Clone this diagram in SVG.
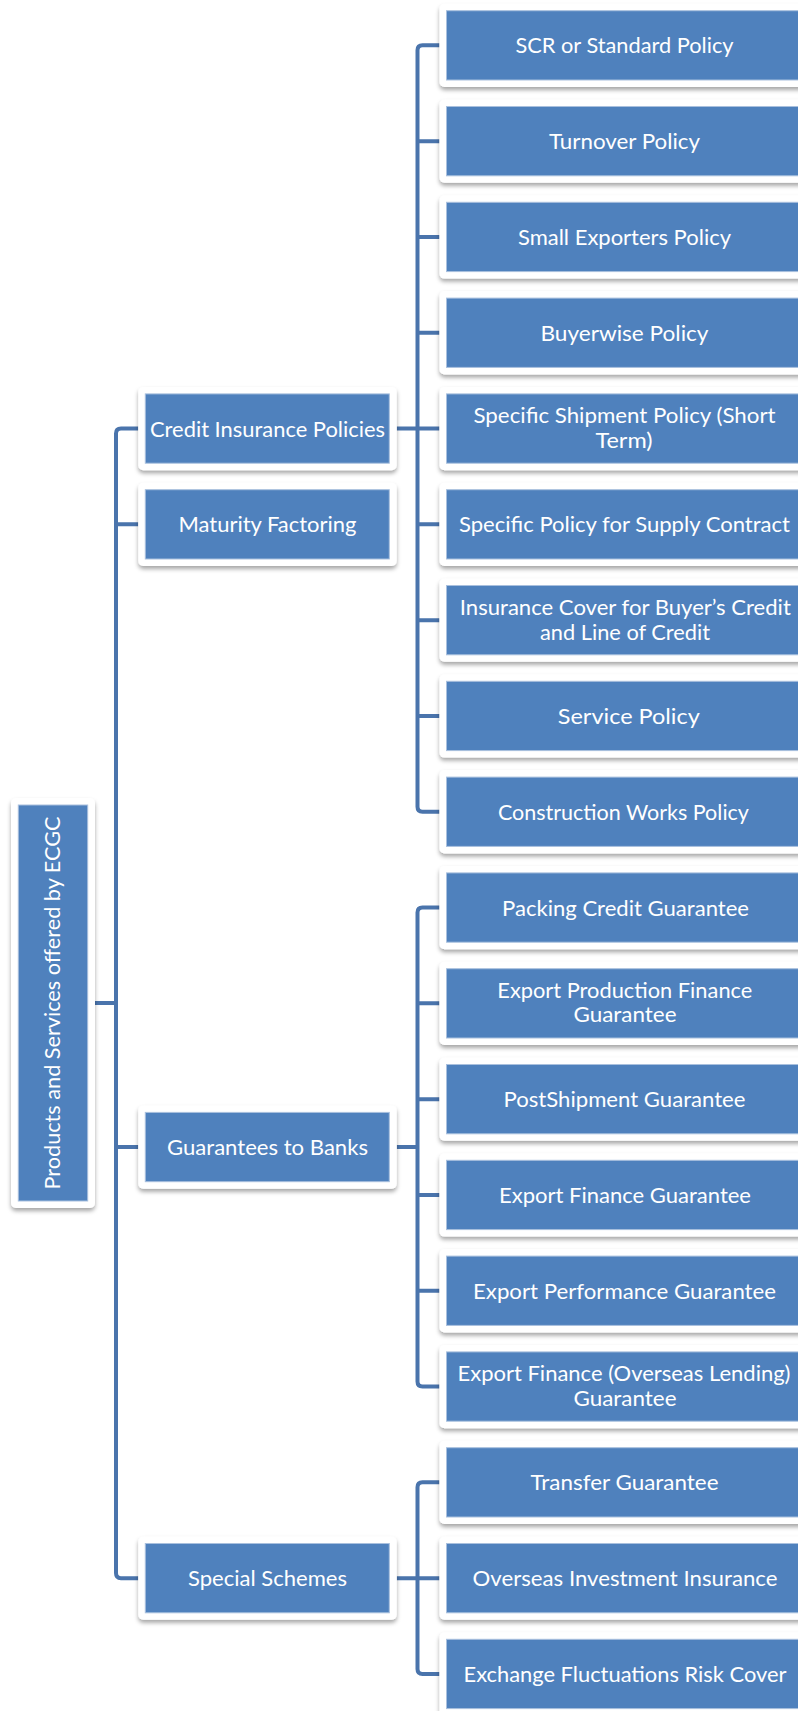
<svg xmlns="http://www.w3.org/2000/svg" width="798" height="1711" viewBox="0 0 798 1711">
<defs>
<filter id="sh" x="-10%" y="-20%" width="120%" height="150%">
<feDropShadow dx="0" dy="3" stdDeviation="2" flood-color="#000" flood-opacity="0.35"/>
</filter>
<style>
.frame{fill:#fff;filter:url(#sh)}
.box{fill:#4F81BD;stroke:#A9C0DE;stroke-width:1}
.t{font-family:Lato,"Open Sans","Liberation Sans",sans-serif;font-size:22px;fill:#fff;text-anchor:middle}
.c{fill:none;stroke:#4A74AC;stroke-width:4;stroke-linejoin:round}
</style>
</defs>
<rect width="798" height="1711" fill="#fff"/>
<g id="connectors">
<path class="c" d="M138.3,428.55 H121 Q116,428.55 116,433.5 V1573 Q116,1578.15 121,1578.15 H138.3"/>
<path class="c" d="M116,524.35 H138.3 M116,1147.05 H138.3 M95,1003 H116"/>
<path class="c" d="M396.7,428.55 H417.5 M439.5,45.35 H422.5 Q417.5,45.35 417.5,50.3 V806.8 Q417.5,811.75 422.5,811.75 H439.5"/>
<path class="c" d="M417.5,141.15 H439.5 M417.5,236.95 H439.5 M417.5,332.75 H439.5 M417.5,428.55 H439.5 M417.5,524.35 H439.5 M417.5,620.15 H439.5 M417.5,715.95 H439.5"/>
<path class="c" d="M396.7,1147.05 H417.5 M439.5,907.55 H422.5 Q417.5,907.55 417.5,912.5 V1381.6 Q417.5,1386.55 422.5,1386.55 H439.5"/>
<path class="c" d="M417.5,1003.35 H439.5 M417.5,1099.15 H439.5 M417.5,1194.95 H439.5 M417.5,1290.75 H439.5"/>
<path class="c" d="M396.7,1578.15 H417.5 M439.5,1482.35 H422.5 Q417.5,1482.35 417.5,1487.3 V1669 Q417.5,1673.95 422.5,1673.95 H439.5 M417.5,1578.15 H439.5"/>
</g>
<g id="root">
<rect class="frame" x="11" y="798" width="84" height="410" rx="5"/>
<rect class="box" x="18.3" y="805" width="69.4" height="396"/>
<text class="t" transform="translate(60,1003) rotate(-90)" x="0" y="0" textLength="373" lengthAdjust="spacingAndGlyphs">Products and Services offered by ECGC</text>
</g>
<g id="credit">
<rect class="frame" x="138.3" y="386.9" width="258.4" height="83.3" rx="5"/>
<rect class="box" x="145.3" y="393.9" width="244" height="69.3"/>
<text class="t" x="267.5" y="436.5" textLength="235" lengthAdjust="spacingAndGlyphs">Credit Insurance Policies</text>
</g>
<g id="maturity">
<rect class="frame" x="138.3" y="482.7" width="258.4" height="83.3" rx="5"/>
<rect class="box" x="145.3" y="489.7" width="244" height="69.3"/>
<text class="t" x="267.5" y="532.3" textLength="178" lengthAdjust="spacingAndGlyphs">Maturity Factoring</text>
</g>
<g id="guarantees">
<rect class="frame" x="138.3" y="1105.4" width="258.4" height="83.3" rx="5"/>
<rect class="box" x="145.3" y="1112.4" width="244" height="69.3"/>
<text class="t" x="267.5" y="1155" textLength="201" lengthAdjust="spacingAndGlyphs">Guarantees to Banks</text>
</g>
<g id="special">
<rect class="frame" x="138.3" y="1536.5" width="258.4" height="83.3" rx="5"/>
<rect class="box" x="145.3" y="1543.5" width="244" height="69.3"/>
<text class="t" x="267.5" y="1586.1" textLength="159" lengthAdjust="spacingAndGlyphs">Special Schemes</text>
</g>
<g id="n0">
<rect class="frame" x="439.5" y="3.7" width="370" height="83.3" rx="5"/>
<rect class="box" x="446.5" y="10.7" width="356" height="69.3"/>
<text class="t" x="624.5" y="53.3" textLength="218" lengthAdjust="spacingAndGlyphs">SCR or Standard Policy</text>
</g>
<g id="n1">
<rect class="frame" x="439.5" y="99.5" width="370" height="83.3" rx="5"/>
<rect class="box" x="446.5" y="106.5" width="356" height="69.3"/>
<text class="t" x="624.5" y="149.1" textLength="151" lengthAdjust="spacingAndGlyphs">Turnover Policy</text>
</g>
<g id="n2">
<rect class="frame" x="439.5" y="195.3" width="370" height="83.3" rx="5"/>
<rect class="box" x="446.5" y="202.3" width="356" height="69.3"/>
<text class="t" x="624.5" y="244.9" textLength="213" lengthAdjust="spacingAndGlyphs">Small Exporters Policy</text>
</g>
<g id="n3">
<rect class="frame" x="439.5" y="291.1" width="370" height="83.3" rx="5"/>
<rect class="box" x="446.5" y="298.1" width="356" height="69.3"/>
<text class="t" x="624.5" y="340.7" textLength="168" lengthAdjust="spacingAndGlyphs">Buyerwise Policy</text>
</g>
<g id="n4">
<rect class="frame" x="439.5" y="386.9" width="370" height="83.3" rx="5"/>
<rect class="box" x="446.5" y="393.9" width="356" height="69.3"/>
<text class="t" x="624.5" y="423.3" textLength="302" lengthAdjust="spacingAndGlyphs">Specific Shipment Policy (Short</text>
<text class="t" x="624" y="448" textLength="57" lengthAdjust="spacingAndGlyphs">Term)</text>
</g>
<g id="n5">
<rect class="frame" x="439.5" y="482.7" width="370" height="83.3" rx="5"/>
<rect class="box" x="446.5" y="489.7" width="356" height="69.3"/>
<text class="t" x="624.5" y="532.3" textLength="331" lengthAdjust="spacingAndGlyphs">Specific Policy for Supply Contract</text>
</g>
<g id="n6">
<rect class="frame" x="439.5" y="578.5" width="370" height="83.3" rx="5"/>
<rect class="box" x="446.5" y="585.5" width="356" height="69.3"/>
<text class="t" x="625.3" y="614.9" textLength="331" lengthAdjust="spacingAndGlyphs">Insurance Cover for Buyer’s Credit</text>
<text class="t" x="625" y="639.6" textLength="170" lengthAdjust="spacingAndGlyphs">and Line of Credit</text>
</g>
<g id="n7">
<rect class="frame" x="439.5" y="674.3" width="370" height="83.3" rx="5"/>
<rect class="box" x="446.5" y="681.3" width="356" height="69.3"/>
<text class="t" x="628.8" y="723.9" textLength="142" lengthAdjust="spacingAndGlyphs">Service Policy</text>
</g>
<g id="n8">
<rect class="frame" x="439.5" y="770.1" width="370" height="83.3" rx="5"/>
<rect class="box" x="446.5" y="777.1" width="356" height="69.3"/>
<text class="t" x="623.4" y="819.7" textLength="251" lengthAdjust="spacingAndGlyphs">Construction Works Policy</text>
</g>
<g id="n9">
<rect class="frame" x="439.5" y="865.9" width="370" height="83.3" rx="5"/>
<rect class="box" x="446.5" y="872.9" width="356" height="69.3"/>
<text class="t" x="625.5" y="915.5" textLength="247" lengthAdjust="spacingAndGlyphs">Packing Credit Guarantee</text>
</g>
<g id="n10">
<rect class="frame" x="439.5" y="961.7" width="370" height="83.3" rx="5"/>
<rect class="box" x="446.5" y="968.7" width="356" height="69.3"/>
<text class="t" x="624.8" y="997.5" textLength="255" lengthAdjust="spacingAndGlyphs">Export Production Finance</text>
<text class="t" x="625" y="1022" textLength="103" lengthAdjust="spacingAndGlyphs">Guarantee</text>
</g>
<g id="n11">
<rect class="frame" x="439.5" y="1057.5" width="370" height="83.3" rx="5"/>
<rect class="box" x="446.5" y="1064.5" width="356" height="69.3"/>
<text class="t" x="624.5" y="1107.1" textLength="242" lengthAdjust="spacingAndGlyphs">PostShipment Guarantee</text>
</g>
<g id="n12">
<rect class="frame" x="439.5" y="1153.3" width="370" height="83.3" rx="5"/>
<rect class="box" x="446.5" y="1160.3" width="356" height="69.3"/>
<text class="t" x="625" y="1202.9" textLength="252" lengthAdjust="spacingAndGlyphs">Export Finance Guarantee</text>
</g>
<g id="n13">
<rect class="frame" x="439.5" y="1249.1" width="370" height="83.3" rx="5"/>
<rect class="box" x="446.5" y="1256.1" width="356" height="69.3"/>
<text class="t" x="624.5" y="1298.7" textLength="303" lengthAdjust="spacingAndGlyphs">Export Performance Guarantee</text>
</g>
<g id="n14">
<rect class="frame" x="439.5" y="1344.9" width="370" height="83.3" rx="5"/>
<rect class="box" x="446.5" y="1351.9" width="356" height="69.3"/>
<text class="t" x="624" y="1381" textLength="333" lengthAdjust="spacingAndGlyphs">Export Finance (Overseas Lending)</text>
<text class="t" x="625" y="1405.5" textLength="103" lengthAdjust="spacingAndGlyphs">Guarantee</text>
</g>
<g id="n15">
<rect class="frame" x="439.5" y="1440.7" width="370" height="83.3" rx="5"/>
<rect class="box" x="446.5" y="1447.7" width="356" height="69.3"/>
<text class="t" x="624.5" y="1490.3" textLength="188" lengthAdjust="spacingAndGlyphs">Transfer Guarantee</text>
</g>
<g id="n16">
<rect class="frame" x="439.5" y="1536.5" width="370" height="83.3" rx="5"/>
<rect class="box" x="446.5" y="1543.5" width="356" height="69.3"/>
<text class="t" x="625" y="1586.1" textLength="305" lengthAdjust="spacingAndGlyphs">Overseas Investment Insurance</text>
</g>
<g id="n17">
<rect class="frame" x="439.5" y="1632.3" width="370" height="83.3" rx="5"/>
<rect class="box" x="446.5" y="1639.3" width="356" height="69.3"/>
<text class="t" x="625" y="1681.9" textLength="323" lengthAdjust="spacingAndGlyphs">Exchange Fluctuations Risk Cover</text>
</g>
</svg>
